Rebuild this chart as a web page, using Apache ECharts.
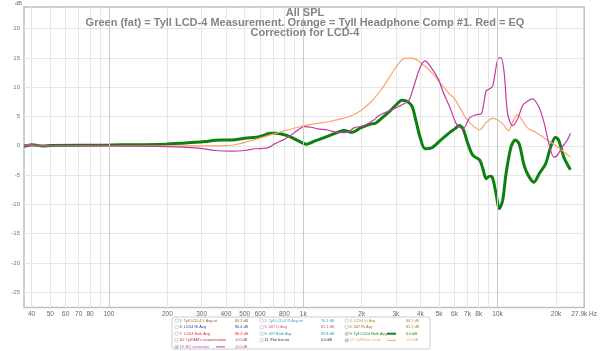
<!DOCTYPE html>
<html>
<head>
<meta charset="utf-8">
<style>
  html, body { margin: 0; padding: 0; background: #fff; }
  #chart { width: 600px; height: 351px; }
</style>
<script src="https://cdn.jsdelivr.net/npm/echarts@6/dist/echarts.min.js"></script>
</head>
<body>
<div id="chart"></div>
<script>
var chart = echarts.init(document.getElementById('chart'))

// frequency (Hz) / dB
var tyllLcd4 = [
    [36.6, -0.1], [40.2, 0.2], [46, -0.05], [50, 0.05], [100, 0.15], [196, 0.28], [248, 0.5],
    [314, 0.73], [353, 0.96], [429, 1.0], [502, 1.3], [576, 1.47], [635, 1.86], [673, 2.15],
    [728, 2.15], [835, 1.7], [939, 0.9], [1036, 0.28], [1142, 0.79], [1260, 1.3], [1390, 1.86],
    [1503, 2.3], [1622, 2.6], [1789, 2.3], [1973, 3.05], [2218, 3.7], [2353, 3.85], [2545, 4.76],
    [2807, 6.0], [3035, 7.14], [3219, 7.8], [3414, 7.6], [3620, 6.85], [3765, 4.87], [3993, 1.47],
    [4235, -0.5], [4581, -0.35], [4955, 0.6], [5255, 1.35], [5685, 2.3], [6029, 2.9], [6340, 3.45],
    [6640, 2.9], [7042, 0.33], [7468, -1.65], [8077, -2.4], [8400, -3.9], [8735, -5.6], [9084, -5.2],
    [9374, -5.3], [9749, -7.6], [10220, -10.7], [10625, -9.3], [11050, -4.8], [11720, -0.23],
    [12330, 1.0], [12920, 0.33], [13700, -3.35], [14530, -5.3], [15410, -6.2], [16340, -4.8],
    [17670, -3.07], [18740, -0.23], [19870, 1.47], [20660, 0.9], [21910, -1.93], [23710, -4.08]
]
var tyllHatsComp = [
    [36.6, 0.15], [45, 0.05], [100, 0], [300, 0], [400, 0.05], [429, 0.1], [502, 0.6], [635, 1.58],
    [772, 2.4], [939, 3.17], [1142, 3.74], [1390, 4.2], [1560, 4.59], [1755, 5.1], [1973, 6.0],
    [2218, 7.4], [2495, 9.4], [2807, 11.95], [3097, 14.05], [3350, 14.96], [3620, 14.96],
    [3917, 14.5], [4317, 13.37], [4669, 12.2], [5050, 10.8], [5568, 9.1], [6023, 7.99], [6388, 6.57],
    [6909, 4.59], [7470, 3.45], [8077, 2.7], [8735, 4.0], [9448, 4.7], [10020, 4.4], [10625, 3.74],
    [11400, 2.6], [11950, 4.0], [12670, 5.32], [13440, 4.3], [14250, 3.06], [15720, 2.32],
    [17670, 1.18], [19870, 0.05], [21490, -0.8], [23710, -1.93]
]
var eqCorrection = [
    [36.6, 0.2], [41, 0.05], [89.6, 0], [196, -0.12], [290, -0.4], [353, -0.8], [429, -0.9],
    [502, -0.8], [565, -0.5], [647, -0.4], [714, 0.33], [835, 1.47], [939, 2.7], [1016, 3.28],
    [1098, 3.17], [1188, 2.9], [1336, 2.7], [1503, 2.26], [1687, 2.3], [1824, 3.06], [2052, 3.45],
    [2308, 4.4], [2447, 5.15], [2699, 5.83], [3035, 6.57], [3482, 7.7], [3694, 10.0], [3993, 13.37],
    [4235, 14.5], [4491, 13.66], [4955, 11.4], [5255, 9.1], [5685, 6.57], [6140, 3.74], [6640, 2.9],
    [7180, 4.76], [7766, 5.32], [8235, 5.44], [8735, 9.4], [9084, 9.7], [9448, 10.25], [10020, 14.8],
    [10420, 15.07], [10835, 12.2], [11270, 5.44], [11950, 3.45], [12670, 4.59], [13440, 6.85],
    [13970, 7.4], [15110, 8.0], [16340, 6.57], [17330, 4.0], [18380, 0.33], [19490, -1.93],
    [20260, -1.65], [21490, -0.23], [22790, 0.9], [23710, 2.15]
]

var xGridVals = [40, 50, 60, 70, 80, 90, 200, 300, 400, 500, 600, 700, 800, 900,
    2000, 3000, 4000, 5000, 6000, 7000, 8000, 9000, 20000]
var xDecades = [100, 1000, 10000]
var xLabelVals = [40, 50, 60, 70, 80, 100, 200, 300, 400, 500, 600, 800, 1000,
    2000, 3000, 4000, 5000, 6000, 7000, 8000, 10000, 20000, 27900]
var yLabelVals = [-25, -20, -15, -10, -5, 0, 5, 10, 15, 20]

var titleLines = [
    'All SPL',
    'Green (fat) = Tyll LCD-4 Measurement. Orange = Tyll Headphone Comp #1. Red = EQ',
    'Correction for LCD-4'
]

// REW style legend table (3 columns)
var legendNames = [
    ['1: Tyll LCD-4 L Avg.txt', '4: LCD4 Rt Avg', '7: LCD4 Both Avg', '10: Tyll HATs compensation', '13: EQ correction'],
    ['2: Tyll LCD-4 R Avg.txt', '5: 007 Lt Avg', '8: 007 Both Avg', '11: Flat line.txt'],
    ['3: LCD4 Lt Avg', '6: 007 Rt Avg', '9: Tyll LCD4 Both Avg', '12: Tyll Hats comp']
]
var legendValues = [
    ['80.2 dB', '80.4 dB', '80.3 dB', '-0.0 dB', '-0.0 dB'],
    ['76.1 dB', '81.1 dB', '81.8 dB', '0.0 dB'],
    ['80.2 dB', '81.1 dB', '0.0 dB', '-0.0 dB']
]
var legendColors = [
    ['#8a6a2a', '#3434c0', '#d03434', '#c8284a', '#c040b8'],
    ['#3c9ad8', '#e0407a', '#22a0a0', '#333333'],
    ['#b09020', '#a07030', '#1e7e1e', '#ff9a60']
]
var legendChecked = [
    [false, false, false, false, true],
    [false, false, false, false],
    [false, false, true, true]
]

var fontFamily = '"Liberation Sans", Arial, sans-serif'

function fmtFreq(v) {
    if (v > 27000) return '27.9k Hz'
    if (v >= 1000) return (v / 1000) + 'k'
    return String(v)
}

var legendGraphics = [{
    type: 'rect',
    shape: { x: 172, y: 317, width: 258, height: 32, r: 2 },
    style: { fill: '#fff', stroke: '#cccccc', lineWidth: 1 }
}]
var colX = [175, 260, 345]
var valX = [235, 321, 406]
legendNames.forEach(function(col, ci) {
    col.forEach(function(name, ri) {
        var y = 320.5 + ri * 6.6
        legendGraphics.push({
            type: 'rect',
            shape: { x: colX[ci], y: y - 1.6, width: 3.2, height: 3.2, r: 0.6 },
            style: { fill: '#fff', stroke: '#aaa', lineWidth: 0.5 }
        })
        if (legendChecked[ci][ri]) {
            legendGraphics.push({
                type: 'polyline',
                shape: { points: [[colX[ci] + 0.6, y], [colX[ci] + 1.4, y + 1], [colX[ci] + 2.8, y - 1.2]] },
                style: { fill: null, stroke: '#555', lineWidth: 0.6 }
            })
            legendGraphics.push({
                type: 'line',
                shape: { x1: valX[ci] - 19, y1: y, x2: valX[ci] - 10, y2: y },
                style: { stroke: legendColors[ci][ri], lineWidth: ci === 2 && ri === 2 ? 2 : 1 }
            })
        }
        legendGraphics.push({
            type: 'text',
            x: colX[ci] + 4.5, y: y,
            style: { text: name, fill: legendColors[ci][ri], fontSize: 3.8, fontFamily: fontFamily, verticalAlign: 'middle' }
        })
        legendGraphics.push({
            type: 'text',
            x: valX[ci], y: y,
            style: { text: legendValues[ci][ri], fill: legendColors[ci][ri], fontSize: 3.8, fontFamily: fontFamily, verticalAlign: 'middle' }
        })
    })
})

var options = {
    animation: false,
    backgroundColor: '#fff',
    title: {
        text: titleLines.join('\n'),
        left: 300,
        textAlign: 'center',
        top: 3,
        textStyle: {
            fontFamily: fontFamily,
            fontSize: 11,
            fontWeight: 'bold',
            color: '#848484',
            lineHeight: 10
        }
    },
    grid: {
        show: true,
        left: 24,
        right: 11,
        top: 6,
        bottom: 43.5,
        borderColor: '#c0c0c0',
        borderWidth: 1.5
    },
    xAxis: {
        type: 'log',
        logBase: 10,
        min: 36.6,
        max: 27900,
        axisLine: { show: false },
        axisTick: { show: false, customValues: xGridVals },
        axisLabel: {
            customValues: xLabelVals,
            formatter: fmtFreq,
            fontFamily: fontFamily,
            fontSize: 6.5,
            color: '#666',
            margin: 3
        },
        splitLine: { show: true, lineStyle: { color: '#e6e6e6', width: 1 } }
    },
    yAxis: {
        type: 'value',
        min: -27.6,
        max: 23.7,
        name: 'dB',
        nameLocation: 'end',
        nameGap: 1,
        nameTextStyle: { fontFamily: fontFamily, fontSize: 5.5, color: '#666', align: 'right', padding: [0, 2, 0, 0] },
        axisLine: { show: false },
        axisTick: { show: false, customValues: yLabelVals },
        axisLabel: {
            customValues: yLabelVals,
            fontFamily: fontFamily,
            fontSize: 6,
            color: '#777',
            margin: 4
        },
        splitLine: { show: true, lineStyle: { color: '#e6e6e6', width: 1 } }
    },
    graphic: legendGraphics,
    series: [{
        name: '9: Tyll LCD4 Both Avg',
        type: 'line',
        data: tyllLcd4,
        showSymbol: false,
        smooth: 0.3,
        lineStyle: { color: '#0f7f10', width: 3 },
        markLine: {
            silent: true,
            symbol: 'none',
            label: { show: false },
            lineStyle: { color: '#cacaca', width: 1, type: 'solid' },
            data: xDecades.map(function(v) { return { xAxis: v } })
        },
        z: 2
    }, {
        name: '12: Tyll Hats comp',
        type: 'line',
        data: tyllHatsComp,
        showSymbol: false,
        smooth: 0.3,
        lineStyle: { color: '#ffa070', width: 1.2 },
        z: 3
    }, {
        name: '13: EQ correction',
        type: 'line',
        data: eqCorrection,
        showSymbol: false,
        smooth: 0.3,
        lineStyle: { color: '#c43aa6', width: 1.2 },
        z: 4
    }]
}

chart.setOption(options)
</script>
</body>
</html>
